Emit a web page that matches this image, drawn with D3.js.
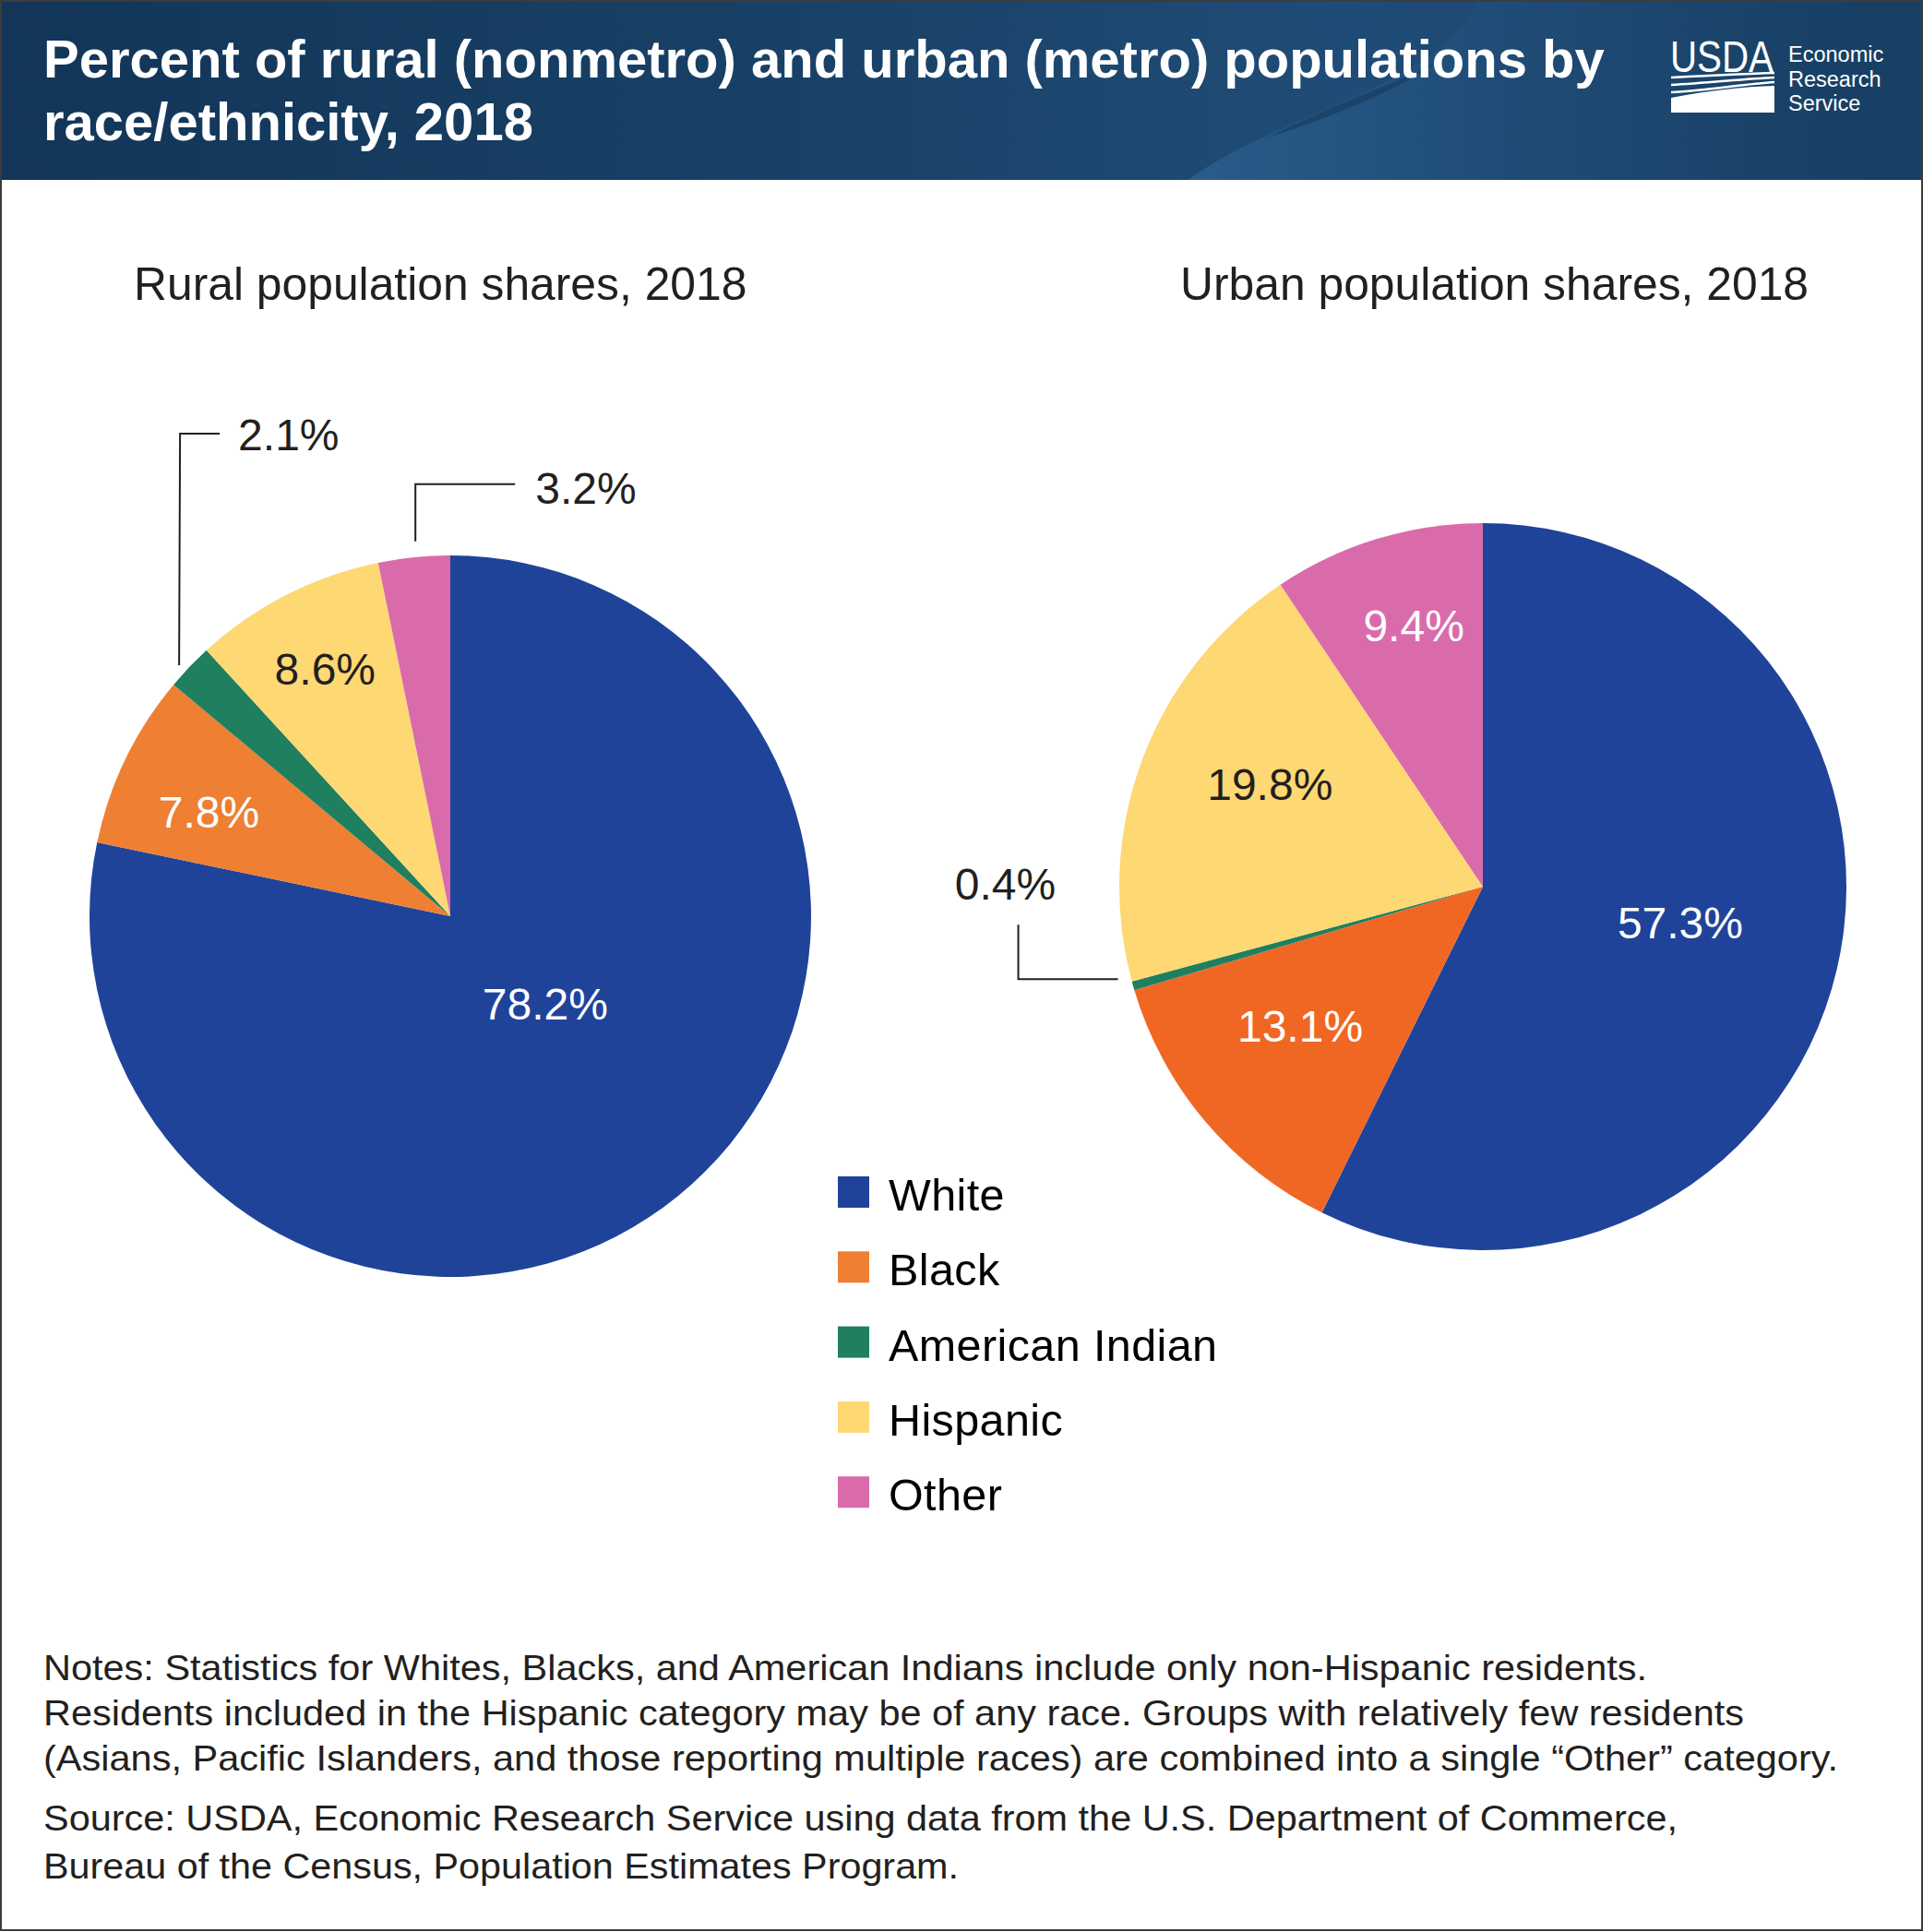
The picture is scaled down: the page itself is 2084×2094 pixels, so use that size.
<!DOCTYPE html>
<html>
<head>
<meta charset="utf-8">
<script src="https://cdn.jsdelivr.net/npm/d3@7"></script>
<style>
  html, body { margin: 0; padding: 0; background: #ffffff; }
  svg { display: block; }
  text { font-family: "Liberation Sans", Arial, Helvetica, sans-serif; }
</style>
</head>
<body>
<div id="chart"></div>
<script>
// ---------------- DATA ----------------
const categories = ["White", "Black", "American Indian", "Hispanic", "Other"];
const ruralShares = [78.2, 7.8, 2.1, 8.6, 3.2];
const urbanShares = [57.3, 13.1, 0.4, 19.8, 9.4];

const titleLines = [
  "Percent of rural (nonmetro) and urban (metro) populations by",
  "race/ethnicity, 2018"
];
const ruralTitle = "Rural population shares, 2018";
const urbanTitle = "Urban population shares, 2018";
const logoWords = ["Economic", "Research", "Service"];
const noteLines = [
  "Notes: Statistics for Whites, Blacks, and American Indians include only non-Hispanic residents.",
  "Residents included in the Hispanic category may be of any race. Groups with relatively few residents",
  "(Asians, Pacific Islanders, and those reporting multiple races) are combined into a single \u201cOther\u201d category."
];
const sourceLines = [
  "Source: USDA, Economic Research Service using data from the U.S. Department of Commerce,",
  "Bureau of the Census, Population Estimates Program."
];

// ---------------- STYLE / LAYOUT ----------------
const W = 2084, H = 2094;
const dark = "#231f20";
const ruralColors = ["#20439a", "#ee7f33", "#1f7f5f", "#fdd873", "#da6baa"];
const urbanColors = ["#20439a", "#f06724", "#1f7f5f", "#fdd873", "#da6baa"];
const fmt = v => d3.format(".1f")(v) + "%";

// label layout per slice: inside => {rf, da, fill}; outside => {gap, da, pts, tx, ty, anchor}
const ruralLayout = {
  cx: 488, cy: 993, r: 391, colors: ruralColors,
  labels: [
    {rf: 0.358, da: -8.2, fill: "#ffffff"},
    {rf: 0.729, da: -2.4, fill: "#ffffff"},
    {out: true, gap: 9.5, da: -0.9, pts: [[0,0],[1,-251],[44,-251]], tx: 64, ty: -233, anchor: "start"},
    {rf: 0.769, da: 0.2, fill: dark},
    {out: true, gap: 17, da: 0.45, pts: [[0,0],[0,-62],[108,-62]], tx: 130, ty: -41, anchor: "start"}
  ]
};
const urbanLayout = {
  cx: 1607, cy: 961, r: 394, colors: urbanColors,
  labels: [
    {rf: 0.552, da: -2.8, fill: "#ffffff"},
    {rf: 0.632, da: 2.8, fill: "#ffffff"},
    {out: true, gap: 14, da: 1.6, pts: [[0,0],[-108,0],[-108,-59]], tx: -122, ty: -86, anchor: "middle"},
    {rf: 0.65, da: 5.2, fill: dark},
    {rf: 0.743, da: 2.1, fill: "#ffffff"}
  ]
};

const svg = d3.select("#chart").append("svg")
  .attr("width", W).attr("height", H).attr("viewBox", `0 0 ${W} ${H}`);

// ---------------- HEADER ----------------
const defs = svg.append("defs");
const hg = defs.append("linearGradient").attr("id", "hdr").attr("x1", 0).attr("x2", 1).attr("y1", 0).attr("y2", 0);
[[0, "#123558"], [0.45, "#194268"], [0.7, "#1f4c76"], [1, "#173e63"]].forEach(s =>
  hg.append("stop").attr("offset", s[0]).attr("stop-color", s[1]));
const wg = defs.append("linearGradient").attr("id", "wave").attr("gradientUnits", "userSpaceOnUse")
  .attr("x1", 1290).attr("x2", 2084).attr("y1", 0).attr("y2", 0);
[[0, "#2b5d8b", 0.95], [0.35, "#22527e", 0.6], [1, "#173e63", 0]].forEach(s =>
  wg.append("stop").attr("offset", s[0]).attr("stop-color", s[1]).attr("stop-opacity", s[2]));

svg.append("rect").attr("x", 0).attr("y", 0).attr("width", W).attr("height", 195).attr("fill", "url(#hdr)");
svg.append("path")
  .attr("d", "M1288,195 C1380,125 1560,95 1602,0 L2084,0 L2084,195 Z")
  .attr("fill", "url(#wave)");
svg.append("path")
  .attr("d", "M1372,150 C1450,110 1530,85 1566,62 C1520,95 1450,125 1372,150 Z")
  .attr("fill", "#163a5d").attr("opacity", 0.6);

svg.append("g").selectAll("text").data(titleLines).join("text")
  .attr("x", 47).attr("y", (d, i) => 84 + i * 68)
  .attr("fill", "#ffffff").attr("font-size", 58).attr("font-weight", "bold")
  .text(d => d);

// USDA logo
const logo = svg.append("g");
logo.append("text").attr("transform", "translate(1810,78) scale(1,1.16)")
  .attr("font-family", "'Liberation Serif', 'DejaVu Serif', serif")
  .attr("font-size", 41).attr("fill", "#ffffff")
  .attr("textLength", 112).attr("lengthAdjust", "spacingAndGlyphs").text("USDA");
logo.append("path").attr("fill", "#ffffff")
  .attr("d", "M1811,106 C1850,98 1890,94 1923,93 L1923,122 L1811,122 Z");
[[84, 2.5], [91, 2.5], [98, 2.5]].forEach((s, i) => {
  logo.append("path").attr("fill", "none").attr("stroke", "#ffffff").attr("stroke-width", s[1])
    .attr("d", `M1811,${s[0] + i * 1} C1850,${s[0] - 2 + i} 1890,${s[0] - 4 - i * 1.5} 1923,${s[0] - 5 - i * 2}`);
});
logo.selectAll("text.erw").data(logoWords).join("text").attr("class", "erw")
  .attr("x", 1938).attr("y", (d, i) => 67 + i * 26.5)
  .attr("font-size", 23.5).attr("fill", "#ffffff").text(d => d);

// ---------------- PIES ----------------
const pie = d3.pie().sort(null).value(d => d);
const rad = Math.PI / 180;
function polar(cx, cy, angDeg, radius) {
  const a = angDeg * rad;
  return [cx + radius * Math.sin(a), cy - radius * Math.cos(a)];
}

function drawPie(values, L, title, titleX) {
  const g = svg.append("g");
  g.append("text").attr("x", titleX).attr("y", 325).attr("font-size", 49.8).attr("fill", dark).text(title);
  const arcs = pie(values);
  const arc = d3.arc().innerRadius(0).outerRadius(L.r);
  const pg = g.append("g").attr("transform", `translate(${L.cx},${L.cy})`);
  pg.selectAll("path").data(arcs).join("path")
    .attr("d", arc).attr("fill", (d, i) => L.colors[i]);

  arcs.forEach((a, i) => {
    const cfg = L.labels[i];
    const mid = (a.startAngle + a.endAngle) / 2 / rad;
    if (!cfg.out) {
      const p = polar(L.cx, L.cy, mid + cfg.da, L.r * cfg.rf);
      g.append("text").attr("x", p[0]).attr("y", p[1] + 17)
        .attr("text-anchor", "middle").attr("font-size", 48).attr("fill", cfg.fill)
        .text(fmt(values[i]));
    } else {
      const P = polar(L.cx, L.cy, mid + cfg.da, L.r + cfg.gap);
      const line = d3.line();
      g.append("path").attr("d", line(cfg.pts.map(q => [P[0] + q[0], P[1] + q[1]])))
        .attr("fill", "none").attr("stroke", dark).attr("stroke-width", 2);
      g.append("text").attr("x", P[0] + cfg.tx).attr("y", P[1] + cfg.ty)
        .attr("text-anchor", cfg.anchor).attr("font-size", 48).attr("fill", dark)
        .text(fmt(values[i]));
    }
  });
}
drawPie(ruralShares, ruralLayout, ruralTitle, 145);
drawPie(urbanShares, urbanLayout, urbanTitle, 1279);

// ---------------- LEGEND ----------------
const lg = svg.append("g").attr("transform", "translate(908,1275)");
const items = lg.selectAll("g").data(categories).join("g")
  .attr("transform", (d, i) => `translate(0,${i * 81.3})`);
items.append("rect").attr("width", 34).attr("height", 34).attr("fill", (d, i) => ruralColors[i]);
items.append("text").attr("x", 55).attr("y", 37).attr("font-size", 48.5)
  .attr("letter-spacing", 0.4).attr("fill", "#000000").text(d => d);

// ---------------- NOTES ----------------
const noteW = [1738, 1843, 1945];
svg.append("g").selectAll("text").data(noteLines).join("text")
  .attr("x", 47).attr("y", (d, i) => 1821 + i * 49)
  .attr("font-size", 39).attr("fill", dark)
  .attr("textLength", (d, i) => noteW[i]).attr("lengthAdjust", "spacingAndGlyphs")
  .text(d => d);
const srcW = [1771, 992];
svg.append("g").selectAll("text").data(sourceLines).join("text")
  .attr("x", 47).attr("y", (d, i) => 1984 + i * 52)
  .attr("font-size", 39).attr("fill", dark)
  .attr("textLength", (d, i) => srcW[i]).attr("lengthAdjust", "spacingAndGlyphs")
  .text(d => d);

// ---------------- BORDER ----------------
svg.append("rect").attr("x", 1).attr("y", 1).attr("width", W - 2).attr("height", H - 3)
  .attr("fill", "none").attr("stroke", "#3c3c3c").attr("stroke-width", 2);
</script>
</body>
</html>
